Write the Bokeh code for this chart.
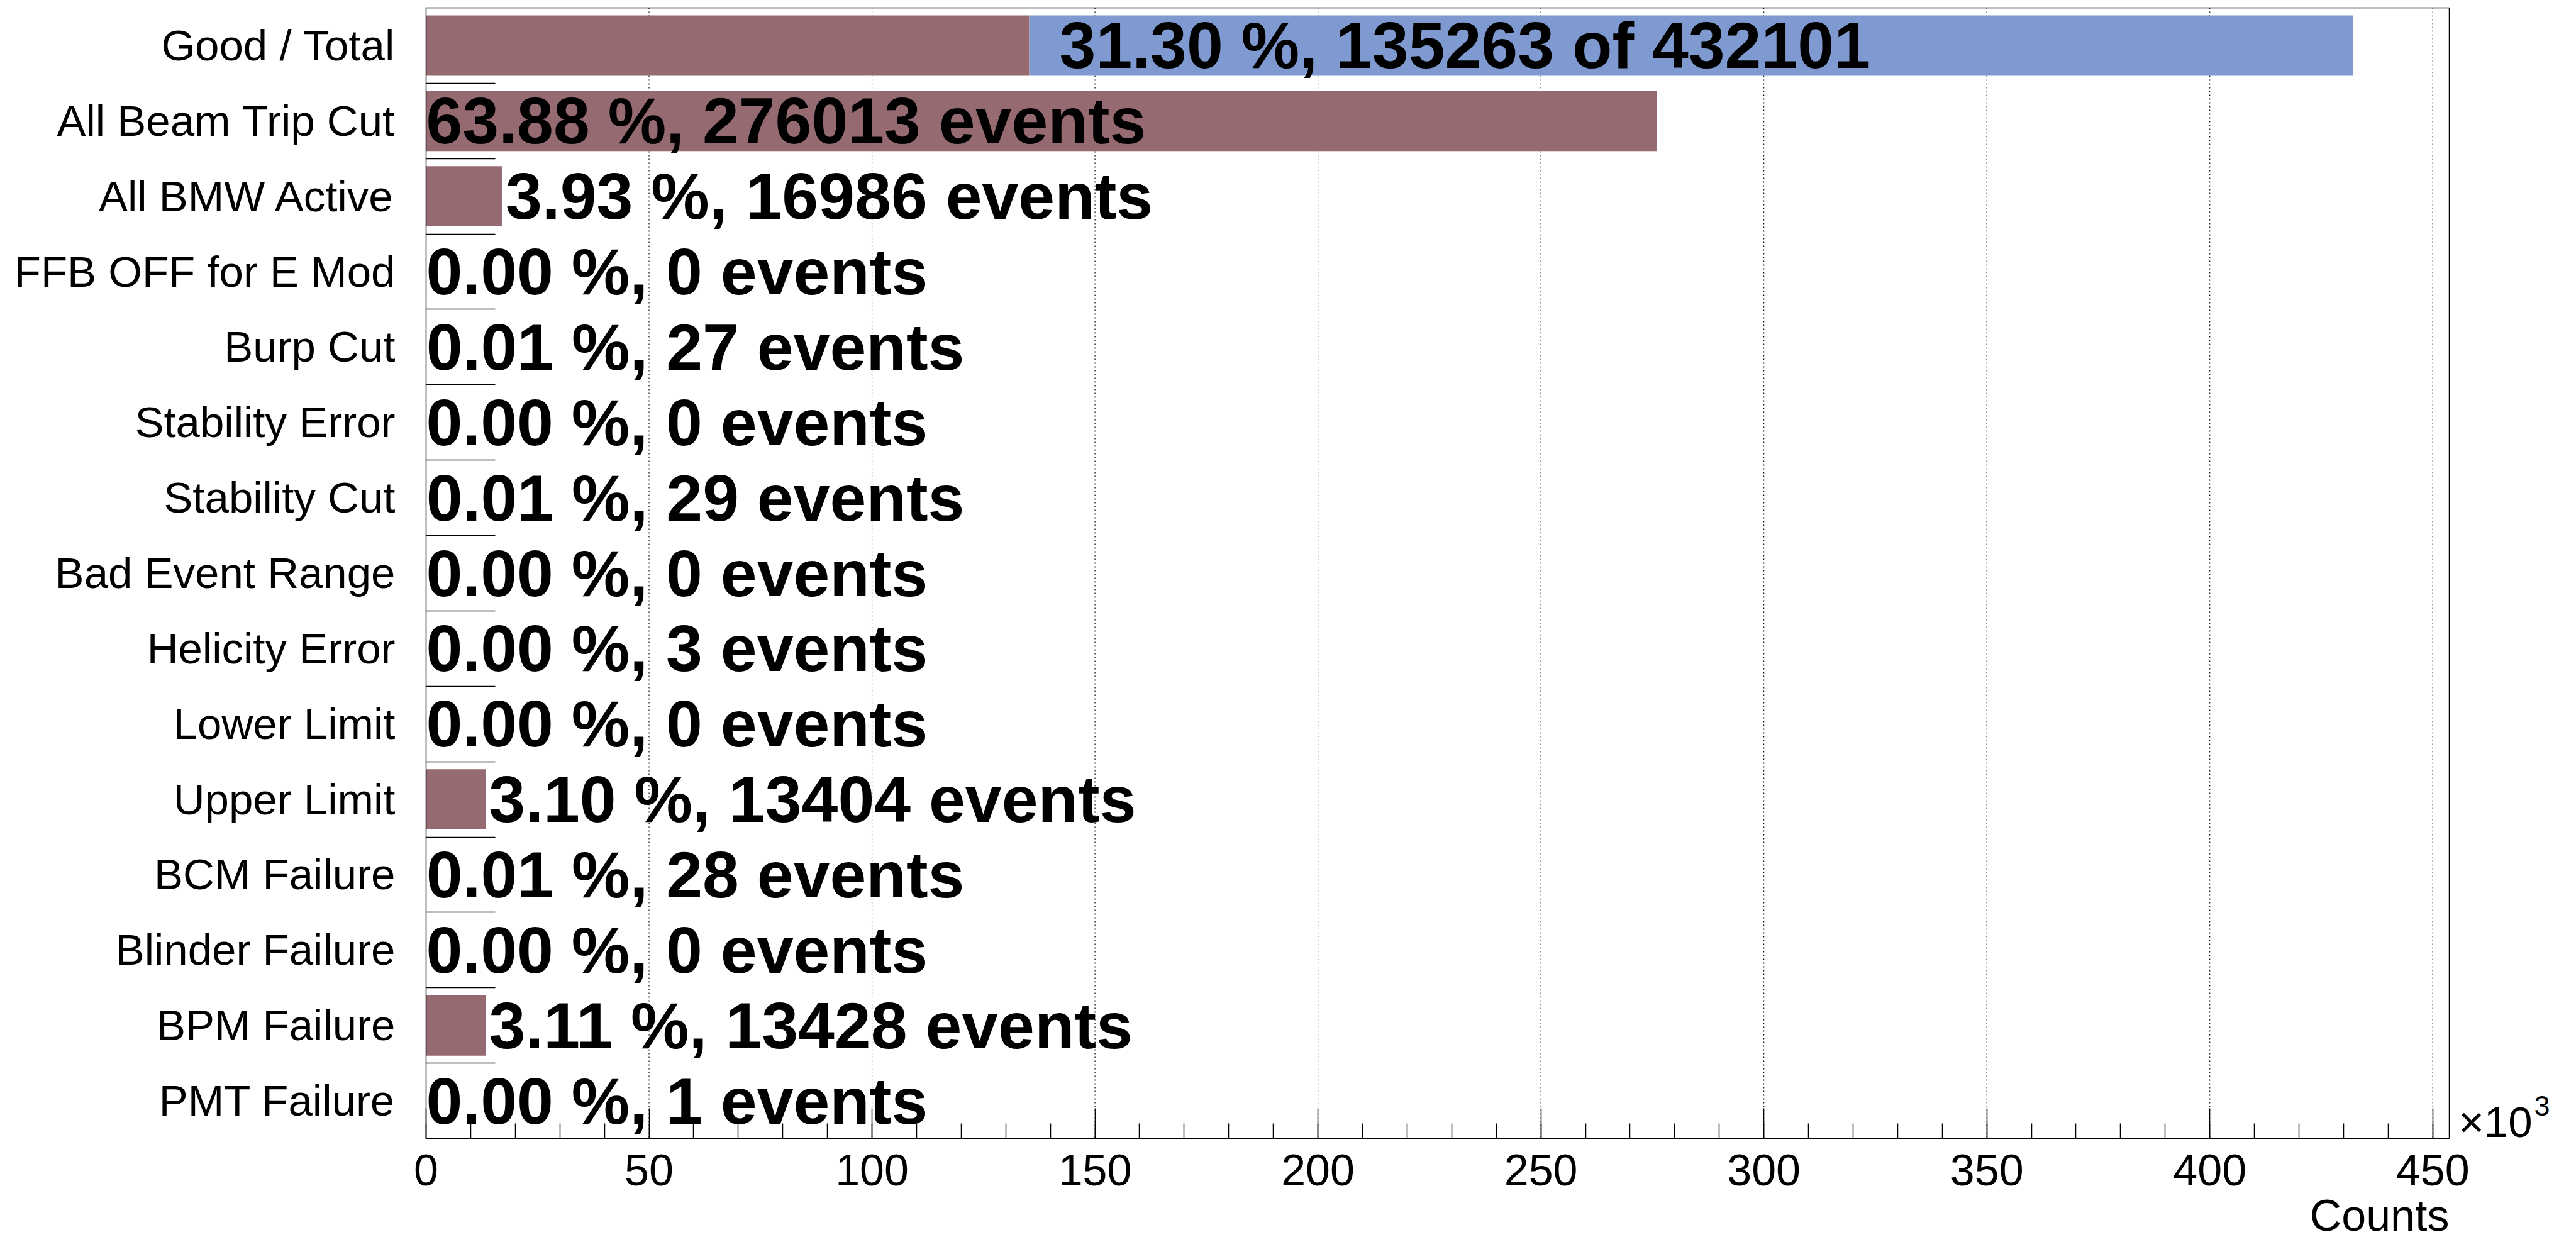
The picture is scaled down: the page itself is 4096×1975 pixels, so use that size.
from bokeh.plotting import figure
from bokeh.models import (Range1d, FixedTicker, SingleIntervalTicker,
                          CustomJSTickFormatter, ColumnDataSource)
from bokeh.core.properties import value
from bokeh.embed import file_html
from bokeh.resources import INLINE

# ---- data ----
categories = ["Good / Total", "All Beam Trip Cut", "All BMW Active",
              "FFB OFF for E Mod", "Burp Cut", "Stability Error",
              "Stability Cut", "Bad Event Range", "Helicity Error",
              "Lower Limit", "Upper Limit", "BCM Failure",
              "Blinder Failure", "BPM Failure", "PMT Failure"]
counts = [135263, 276013, 16986, 0, 27, 0, 29, 0, 3, 0, 13404, 28, 0, 13428, 1]
total_events = 432101
good_events = 135263
x_ticks = [0, 50000, 100000, 150000, 200000, 250000, 300000, 350000, 400000, 450000]

MAROON = "#956a70"
BLUE = "#7e9ad1"
FONT = "Liberation Sans"

# ---- layout (pixels) ----
W, H = 4090, 1972
LEFT = 677            # left edge of the histogram box
BOX_W = 3217          # width of the histogram box
BOX_TOP = 12          # top edge of the histogram box
BOX_H = 1798          # height of the histogram box

n = len(categories)
x_max = 1.05 * total_events
px_x = BOX_W / x_max
px_y = BOX_H / n
x_start = -LEFT / px_x
x_end = x_max + (W - LEFT - BOX_W) / px_x
y_top = -BOX_TOP / px_y
y_bot = n + (H - BOX_TOP - BOX_H) / px_y

p = figure(width=W, height=H, output_backend="svg", toolbar_location=None,
           x_range=Range1d(x_start, x_end), y_range=Range1d(y_bot, y_top),
           title=None, min_border_left=0, min_border_right=0,
           min_border_top=0, min_border_bottom=0)
p.background_fill_color = "white"
p.border_fill_color = "white"
p.outline_line_color = None
p.xgrid.visible = False
p.ygrid.visible = False

# ---- y axis (categories) ----
yax = p.yaxis[0]
yax.fixed_location = 0
yax.ticker = FixedTicker(ticks=[i + 0.5 for i in range(n)],
                         minor_ticks=[float(i) for i in range(1, n)])
yax.major_label_overrides = {i + 0.5: categories[i] for i in range(n)}
yax.bounds = (0, n)
yax.major_tick_in = 0
yax.major_tick_out = 0
yax.minor_tick_in = 110
yax.minor_tick_out = 0
yax.minor_tick_line_width = 1.5
yax.minor_tick_line_color = "black"
yax.major_label_standoff = 49
yax.major_label_text_font = FONT
yax.major_label_text_font_size = "69px"
yax.major_label_text_color = "black"
yax.axis_line_width = 1.5

# ---- x axis (counts, in units of 10^3) ----
xax = p.xaxis[0]
xax.fixed_location = n
xax.bounds = (0, x_max)
xax.ticker = SingleIntervalTicker(interval=x_ticks[1] - x_ticks[0], num_minor_ticks=5)
xax.formatter = CustomJSTickFormatter(code="return (tick/1000).toFixed(0);")
xax.major_tick_in = 48
xax.major_tick_out = 0
xax.minor_tick_in = 24
xax.minor_tick_out = 0
xax.major_tick_line_width = 1.5
xax.minor_tick_line_width = 1.5
xax.major_label_standoff = 25
xax.major_label_text_font = FONT
xax.major_label_text_font_size = "70px"
xax.major_label_text_color = "black"
xax.axis_line_width = 1.5

# ---- dotted grid lines at the major ticks ----
grid_x = x_ticks[1:]
p.segment(x0=grid_x, y0=[0] * len(grid_x), x1=grid_x, y1=[n] * len(grid_x),
          line_color="black", line_dash="2 4", line_width=1.2)

# ---- box: top and right edges ----
p.segment(x0=[0, x_max], y0=[0, 0], x1=[x_max, x_max], y1=[0, n],
          line_color="black", line_width=1.5)

# ---- bars ----
ys = [i + 0.5 for i in range(n)]
bar_src = ColumnDataSource(dict(y=ys, right=counts, left=[0] * n))
p.hbar(y="y", left="left", right="right", height=0.8, source=bar_src,
       fill_color=MAROON, line_color=None)
p.hbar(y=[0.5], left=[good_events], right=[total_events], height=0.8,
       fill_color=BLUE, line_color=None)

# ---- value labels ----
texts, anchors = [], []
for i, c in enumerate(counts):
    pct = 100.0 * c / total_events
    if i == 0:
        texts.append("%.2f %%, %d of %d" % (pct, c, total_events))
    else:
        texts.append("%.2f %%, %d events" % (pct, c))
    anchors.append(0 if pct > 50 else c * 1.05)
txt_src = ColumnDataSource(dict(x=anchors, y=ys, text=texts))
p.text(x="x", y="y", text="text", source=txt_src,
       text_font=value(FONT), text_font_style="bold", text_font_size="104px",
       text_align="left", text_baseline="middle", text_color="black")

# ---- axis title and exponent ----
p.text(x=[x_max], y=[n], text=["Counts"], x_offset=0, y_offset=122,
       text_font=value(FONT), text_font_size="70px", text_align="right",
       text_baseline="middle", text_color="black")
p.text(x=[x_max], y=[n], text=["\u00d710"], x_offset=15, y_offset=-26,
       text_font=value(FONT), text_font_size="69px", text_align="left",
       text_baseline="middle", text_color="black")
p.text(x=[x_max], y=[n], text=["3"], x_offset=135, y_offset=-52,
       text_font=value(FONT), text_font_size="45px", text_align="left",
       text_baseline="middle", text_color="black")

open("out.html", "w").write(file_html(p, INLINE))
